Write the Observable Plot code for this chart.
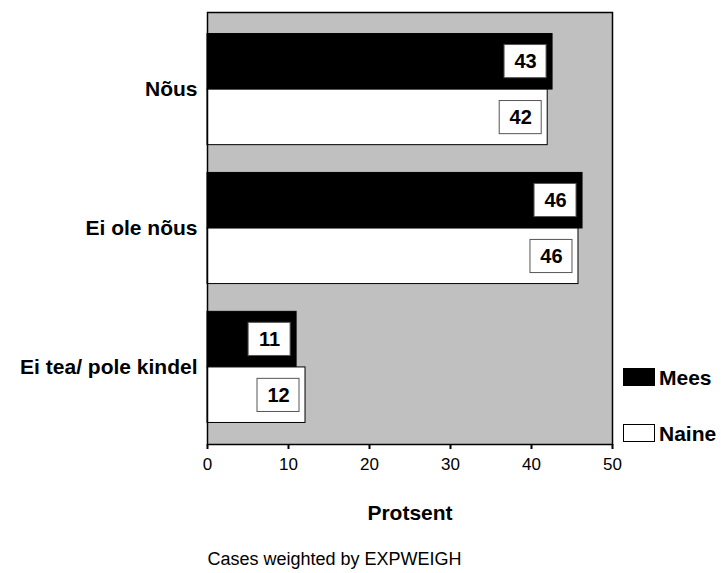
<!DOCTYPE html>
<html>
<head>
<meta charset="utf-8">
<script src="https://cdn.jsdelivr.net/npm/d3@7"></script>
<script src="https://cdn.jsdelivr.net/npm/@observablehq/plot@0.6"></script>
<style>
  html, body { margin: 0; padding: 0; background: #fff; }
  #wrap { position: relative; width: 721px; height: 573px; font-family: "Liberation Sans", Arial, sans-serif; }
  #wrap svg [aria-label^="y-axis"] text { font-size: 21px; font-weight: bold; fill: #000; }
  #wrap svg [aria-label^="x-axis"] text { font-size: 17px; fill: #000; }
  #wrap svg [aria-label^="x-axis"] line, #wrap svg [aria-label^="x-axis"] path { stroke-width: 2px; stroke: #000; }
  .leg { position: absolute; font-size: 21px; font-weight: bold; color: #000; line-height: 1; }
  .sw { position: absolute; box-sizing: border-box; width: 32px; height: 18px; border: 1px solid #000; }
</style>
</head>
<body>
<div id="wrap"></div>
<script>
const categories = ["Nõus", "Ei ole nõus", "Ei tea/ pole kindel"];
const series = ["Mees", "Naine"];
const meesValues = [42.6, 46.3, 11.0];
const naineValues = [42.0, 45.8, 12.1];
const meesLabels = [43, 46, 11];
const naineLabels = [42, 46, 12];
const xTicks = [0, 10, 20, 30, 40, 50];
const xLabel = "Protsent";
const caption = "Cases weighted by EXPWEIGH";

const mees = categories.map((c, i) => ({category: c, series: "Mees", value: meesValues[i], label: meesLabels[i]}));
const naine = categories.map((c, i) => ({category: c, series: "Naine", value: naineValues[i], label: naineLabels[i]}));

const half = 55.6;

const chart = Plot.plot({
  width: 721,
  height: 573,
  marginTop: 12,
  marginBottom: 129,
  marginLeft: 207,
  marginRight: 109,
  style: {fontFamily: "Liberation Sans, Arial, sans-serif", background: "transparent", overflow: "visible"},
  x: {domain: [0, 50], ticks: xTicks, tickSize: 5, tickPadding: 8, label: null},
  y: {domain: categories, paddingInner: 0.2, paddingOuter: 0.155, round: false, tickSize: 0, tickPadding: 10, label: null},
  marks: [
    Plot.frame({fill: "#c0c0c0", stroke: "none"}),
    Plot.barX(mees, {x: "value", y: "category", fill: "#000", stroke: "#000", insetBottom: half}),
    Plot.barX(naine, {x: "value", y: "category", fill: "#fff", stroke: "#000", strokeWidth: 1, insetTop: half}),
    Plot.barX(mees, {x1: "value", x2: "value", y: "category", fill: "#fff", stroke: "#555", strokeWidth: 1, insetLeft: -48, insetRight: 6, insetTop: 11, insetBottom: 67}),
    Plot.barX(naine, {x1: "value", x2: "value", y: "category", fill: "#fff", stroke: "#555", strokeWidth: 1, insetLeft: -48, insetRight: 6, insetTop: 67, insetBottom: 11}),
    Plot.text(mees, {x: "value", y: "category", text: d => String(d.label), dx: -27, dy: -28, fontSize: 20, fontWeight: "bold", fill: "#000"}),
    Plot.text(naine, {x: "value", y: "category", text: d => String(d.label), dx: -27, dy: 28, fontSize: 20, fontWeight: "bold", fill: "#000"}),
    Plot.frame({stroke: "#000", strokeWidth: 1.5}),
    Plot.text([xLabel], {frameAnchor: "bottom", text: d => d, dy: 75, fontSize: 21, fontWeight: "bold", fill: "#000"}),
    Plot.text([caption], {frameAnchor: "bottom-left", text: d => d, textAnchor: "start", dy: 120, fontSize: 18, fill: "#000"})
  ]
});

const wrap = document.getElementById("wrap");
wrap.appendChild(chart);

// legend
const legendItems = [
  {name: series[0], fill: "#000", top: 368},
  {name: series[1], fill: "#fff", top: 424}
];
for (const item of legendItems) {
  const sw = document.createElement("div");
  sw.className = "sw";
  sw.style.left = "623px";
  sw.style.top = item.top + "px";
  sw.style.background = item.fill;
  wrap.appendChild(sw);
  const t = document.createElement("div");
  t.className = "leg";
  t.textContent = item.name;
  t.style.left = "659px";
  t.style.top = (item.top - 1) + "px";
  wrap.appendChild(t);
}
</script>
</body>
</html>
